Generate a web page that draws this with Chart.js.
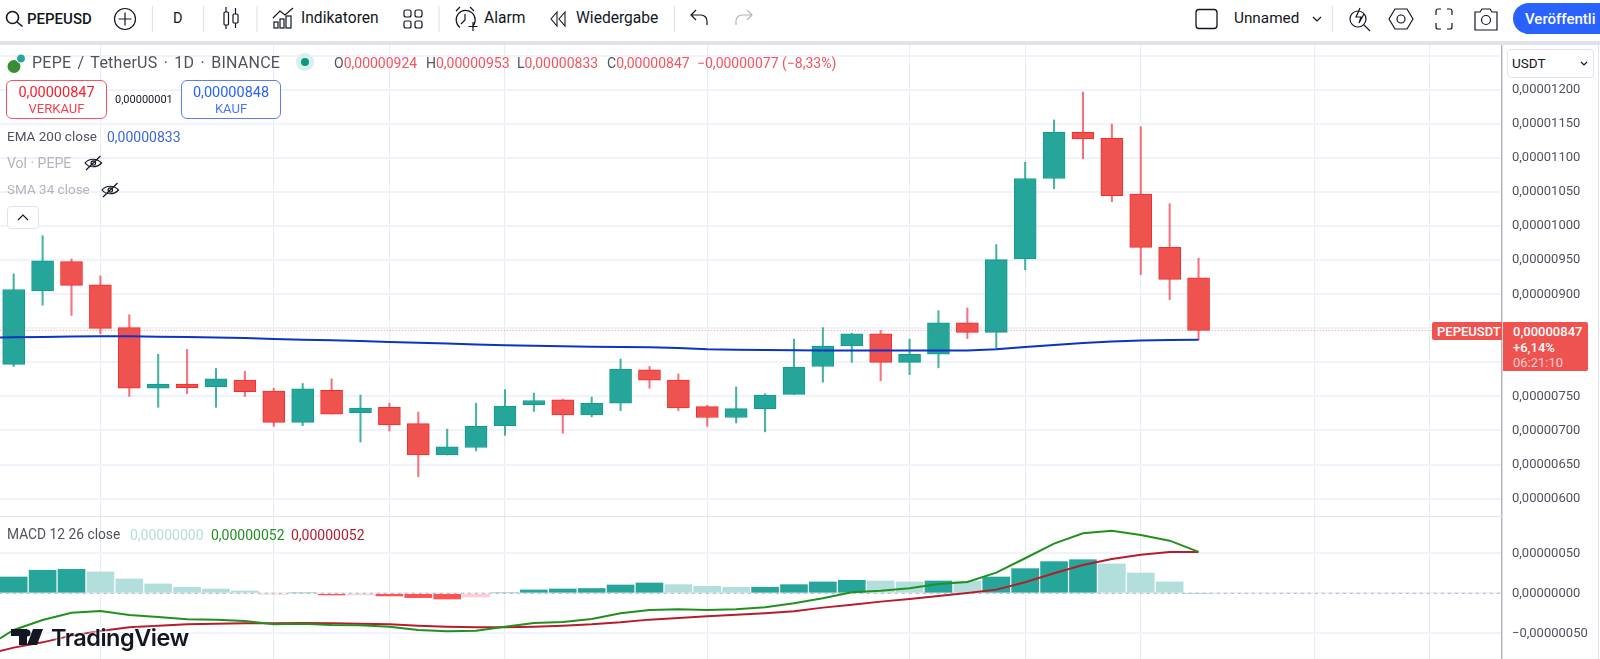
<!DOCTYPE html>
<html lang="de">
<head>
<meta charset="utf-8">
<title>PEPE / TetherUS</title>
<script src="https://cdn.jsdelivr.net/npm/chart.js@4"></script>
<style>
html, body { margin: 0; padding: 0; background: #fff; }
body { position: relative; width: 1600px; height: 659px; overflow: hidden; font-family: Roboto, sans-serif; color: #131722; }
canvas { position: absolute; left: 0; }
#price-chart { top: 45px; }
#macd-chart { top: 516px; }
.bar-line { position: absolute; background: #e0e3eb; }
.t { position: absolute; white-space: nowrap; transform: translateY(-50%); line-height: 1; }
.box { position: absolute; box-sizing: border-box; background: #fff; }
.c { text-align: center; }
.red { color: #f7525f; }
.gray { color: #50535e; }
#icons { position: absolute; left: 0; top: 0; }
#icons * { fill: none; stroke: #131722; stroke-width: 1.2; }
</style>
</head>
<body>
<canvas id="price-chart" width="1600" height="471" style="width:1600px;height:471px"></canvas>
<canvas id="macd-chart" width="1600" height="143" style="width:1600px;height:143px"></canvas>

<div class="bar-line" style="left:0;top:41px;width:1600px;height:4px"></div>
<div class="bar-line" style="left:0;top:516px;width:1502px;height:1px"></div>
<div class="bar-line" style="left:1598px;top:45px;width:1px;height:614px"></div>

<!-- Werkzeugleiste -->
<div class="t" style="left:27px;top:19px;font-size:15px;font-weight:500">PEPEUSD</div>
<div class="t" style="left:173px;top:19px;font-size:14.5px">D</div>
<div class="t" style="left:301px;top:19px;font-size:15.6px">Indikatoren</div>
<div class="t" style="left:484px;top:19px;font-size:15.6px">Alarm</div>
<div class="t" style="left:576px;top:19px;font-size:15.6px">Wiedergabe</div>
<div class="t" style="left:1234px;top:19px;font-size:15.3px">Unnamed</div>
<div class="box" style="left:1513px;top:3px;width:110px;height:31px;background:#2962ff;border-radius:16px"></div>
<div class="t" style="left:1525px;top:19px;font-size:15px;font-weight:500;color:#fff">Veröffentli</div>

<!-- Legende -->
<div class="t gray" style="left:32px;top:63px;font-size:16px;letter-spacing:0.25px;word-spacing:2px">PEPE / TetherUS · 1D · BINANCE</div>
<div class="t gray" style="left:334px;top:63px;font-size:14px">O<span class="red">0,00000924</span></div>
<div class="t gray" style="left:426px;top:63px;font-size:14px">H<span class="red">0,00000953</span></div>
<div class="t gray" style="left:517px;top:63px;font-size:14px">L<span class="red">0,00000833</span></div>
<div class="t gray" style="left:607px;top:63px;font-size:14px">C<span class="red">0,00000847</span></div>
<div class="t red" style="left:697px;top:63px;font-size:14px">−0,00000077 (−8,33%)</div>

<div class="box" style="left:6px;top:80px;width:101px;height:39px;border:1px solid #f7525f;border-radius:6px"></div>
<div class="t c" style="left:6px;width:101px;top:93px;font-size:14.5px;color:#f6202f">0,00000847</div>
<div class="t c" style="left:6px;width:101px;top:108px;font-size:13px;color:#f6404f">VERKAUF</div>
<div class="t" style="left:115px;top:99px;font-size:11px">0,00000001</div>
<div class="box" style="left:181px;top:80px;width:100px;height:39px;border:1px solid #5a80f0;border-radius:6px"></div>
<div class="t c" style="left:181px;width:100px;top:93px;font-size:14.5px;color:#2962ff">0,00000848</div>
<div class="t c" style="left:181px;width:100px;top:108px;font-size:13px;color:#4c75f5">KAUF</div>

<div class="t gray" style="left:7px;top:137px;font-size:13.5px">EMA 200 close</div>
<div class="t" style="left:107px;top:137px;font-size:14px;color:#3f66e0">0,00000833</div>
<div class="t" style="left:7px;top:163px;font-size:14px;color:#b2b5be">Vol · PEPE</div>
<div class="t" style="left:7px;top:190px;font-size:13.5px;color:#b2b5be">SMA 34 close</div>
<div class="box" style="left:7px;top:206px;width:32px;height:23px;border:1px solid #e0e3eb;border-radius:4px"></div>

<!-- rechte Skala -->
<div class="box" style="left:1507px;top:49px;width:87px;height:29px;border:1px solid #e0e3eb;border-radius:4px"></div>
<div class="t" style="left:1512px;top:64px;font-size:13.5px">USDT</div>
<div class="box" style="left:1432px;top:322px;width:70px;height:18px;background:#ef5350;border-radius:2px 0 0 2px"></div>
<div class="t" style="left:1437px;top:331px;font-size:13px;font-weight:500;color:#fff">PEPEUSDT</div>
<div class="box" style="left:1503px;top:322px;width:85px;height:49px;background:#ef5350;border-radius:0 2px 2px 0"></div>
<div class="t" style="left:1513px;top:331px;font-size:13px;font-weight:500;color:#fff">0,00000847</div>
<div class="t" style="left:1513px;top:347px;font-size:13px;font-weight:500;color:#fff">+6,14%</div>
<div class="t" style="left:1513px;top:362px;font-size:13px;color:#fbd0d2">06:21:10</div>

<!-- MACD-Legende -->
<div class="t gray" style="left:7px;top:535px;font-size:13.8px">MACD 12 26 close</div>
<div class="t" style="left:130px;top:535px;font-size:14px;color:#b2dfdb">0,00000000</div>
<div class="t" style="left:211px;top:535px;font-size:14px;color:#22901f">0,00000052</div>
<div class="t" style="left:291px;top:535px;font-size:14px;color:#b71c2c">0,00000052</div>

<!-- Logo -->
<div class="t" style="left:51px;top:638px;font-family:Inter,Roboto,sans-serif;font-size:23.5px;font-weight:600;letter-spacing:-0.5px;color:#131722;text-shadow:0 0 3px #fff,0 0 3px #fff">TradingView</div>

<svg id="icons" width="1600" height="659" viewBox="0 0 1600 659">
  <path style="stroke:#e0e3eb" d="M152.5 6V32M203.5 6V32M257 6V32M439 6V32M674.5 6V32M1332.5 6V32"/>
  <circle cx="12.5" cy="17.5" r="6" style="stroke-width:1.6"/><path d="M17 22L22.5 26.5" style="stroke-width:1.6"/>
  <circle cx="125" cy="19" r="10.5"/><path d="M125 12.5V25.5M118.5 19H131.5"/>
  <path d="M226 7V29M235.5 8V28"/><rect x="224" y="12" width="4.5" height="13" rx="1" style="fill:#fff"/><rect x="233" y="14" width="5" height="9" rx="1" style="fill:#fff"/>
  <path d="M273 18L280 11L285 15L293 8"/><rect x="274" y="22" width="4" height="6"/><rect x="280" y="19" width="4" height="9"/><rect x="286" y="16" width="5" height="12"/>
  <rect x="404" y="10" width="7" height="7" rx="2"/><rect x="415" y="10" width="7" height="7" rx="2"/><rect x="404" y="21" width="7" height="7" rx="2"/><rect x="415" y="21" width="7" height="7" rx="2"/>
  <path d="M472 27A9.5 9.5 0 1 0 460 27.5M465 14V20L461 24M456 11L460 7M474 11L470 7M473 22V31M468.5 26.5H477.5"/>
  <path d="M557 12L551 19L557 26ZM565 12L559 19L565 26Z" style="stroke-width:1.1"/>
  <path d="M692 15H701A6 6 0 0 1 707 21V25M696 10L691 15L696 20"/>
  <path d="M751 15H742A6 6 0 0 0 736 21V25M747 10L752 15L747 20" style="stroke:#b2b5be"/>
  <rect x="1196" y="9.5" width="21" height="19" rx="3" style="stroke-width:1.3"/>
  <path d="M1313 17L1317 21L1321 17"/>
  <circle cx="1358" cy="19" r="8"/><path d="M1364 25L1370 31M1360 8L1356 17H1361L1359 23L1364 14"/>
  <path d="M1395 9H1407L1413 19L1407 29H1395L1389 19Z"/><circle cx="1401" cy="19" r="4"/>
  <path d="M1436 15V11A2 2 0 0 1 1438 9H1441M1447 9H1450A2 2 0 0 1 1452 11V15M1452 23V27A2 2 0 0 1 1450 29H1447M1441 29H1438A2 2 0 0 1 1436 27V23"/>
  <path d="M1475 12H1480L1482 9H1490L1492 12H1497V30H1475Z"/><circle cx="1486" cy="20" r="4.5"/>
  <circle cx="14" cy="66.5" r="6.5" style="fill:#3d8b37;stroke:none"/><circle cx="21" cy="58.5" r="4.5" style="fill:#26a69a;stroke:#fff"/>
  <circle cx="305" cy="62" r="9" style="fill:#d9efec;stroke:none"/><circle cx="305" cy="62" r="4" style="fill:#089981;stroke:none"/>
  <path d="M85 163C89 158 97 158 101.500 163C97 168 89 168 85 163ZM86 170L100.500 156"/><circle cx="93.300" cy="163" r="2.2"/>
  <path d="M102 190C106 185 114 185 118.500 190C114 195 106 195 102 190ZM103 197L117.500 183"/><circle cx="110.300" cy="190" r="2.2"/>
  <path d="M18 220L23 215L28 220"/>
  <path d="M1581 62L1584 65L1587 62"/>
  <path style="fill:#131722;stroke:none" d="M11 629H27V645H19V636H11ZM33 629H43L37 645H27Z"/>
  <circle cx="27" cy="633" r="3.5" style="fill:#131722;stroke:none"/>
</svg>

<script>
// werte in 1e-8 USDT
const opens = [797,905,948,914,851,762,768,764,774,758,712,759,726,734,710,664,675,707,738,745,723,740,789,774,735,719,732,753,794,824,842,800,812,858,844,952,1070,1138,1129,1047,969,924];
const highs = [930,986,952,927,870,812,819,791,787,762,769,776,752,740,727,702,740,760,755,746,749,805,794,783,737,764,754,834,851,843,847,834,876,880,973,1094,1156,1197,1150,1146,1033,953];
const lows = [794,884,869,842,750,734,754,734,750,706,707,724,683,699,632,664,670,693,728,696,720,729,762,729,706,711,698,753,771,800,773,782,792,835,821,936,1055,1099,1036,929,892,833];
const closes = [907,949,913,850,762,768,763,776,757,712,761,724,733,708,664,676,706,736,744,723,740,790,774,733,719,732,752,793,824,842,800,812,858,844,951,1070,1138,1128,1045,969,922,847];

// erster wert liegt einen tag links vom bild
const emaValues = [836.5,836.9,837.3,838,838.3,838.3,837.7,837.3,836.6,835.8,834.4,833.3,832.5,831.4,830,828.9,827.8,826.3,825.3,824.5,823.8,823,822.6,822.2,821.1,819.2,818.7,818.2,817.8,817.6,817.5,817.3,817.3,817.3,817.6,819.2,822.6,825.6,828.5,830.7,832.2,832.9,833.3];
const macdValues = [-67.9,-45.8,-33.3,-24.2,-22.1,-27.1,-29.6,-32.5,-32.9,-34.6,-38.8,-37.9,-39.6,-40,-41.7,-45.8,-47.5,-46.7,-41.7,-37.1,-35.8,-32.1,-25,-20.8,-20,-20.8,-20,-17.5,-12.5,-6.3,1.3,3.3,6.3,11.7,14.2,25.8,43.8,62.1,75,78.3,72.9,65.8,51.7];
const signalValues = [-77,-67.9,-61.3,-52.9,-47.1,-42.5,-40.4,-38.8,-37.9,-37.5,-37.5,-37.1,-37.5,-37.9,-38.8,-40.4,-41.7,-42.5,-42.5,-41.7,-40.4,-38.8,-36.3,-32.9,-30.8,-28.8,-26.7,-25,-22.5,-17.9,-14.2,-10.4,-7.1,-3.3,0.4,4.6,13.8,25,35.4,42.9,48.3,51.7,51.7];
const histValues = [20.4,28.8,30,26.7,17.9,11.7,7.5,5.4,2.9,-1.2,0.6,-2.1,-2,-3.3,-5.4,-7.1,-4.6,0.8,4.2,5.4,6,10.4,12.9,10.8,8.75,7.5,7.6,10.8,14.2,16.25,15.4,14.2,15.4,15.3,20.4,30.8,39.6,42,36.7,25.4,14.2,0];

const lastPrice = 847;
const priceTicks = [1250,1200,1150,1100,1050,1000,950,900,850,800,750,700,650,600];
const priceTickLabels = [1200,1150,1100,1050,1000,950,900,750,700,650,600];
const macdTicks = [50,0,-50];
const gridDays = [3,9,13,17,24,31,35,39,45,49];

const GREEN = '#26a69a';
const RED = '#ef5350';
const GRID_H = '#f0f3fa';
const GRID_V = '#e6eef4';
const TICK_FONT = {family: 'Roboto', size: 13};

Chart.defaults.animation = false;
Chart.defaults.font.family = 'Roboto';

function priceLabel(v){
	const text = (Math.abs(v) / 1e8).toFixed(8).replace('.', ',');
	return v < 0 ? '−' + text : text;
}

function xAxis(){
	return {
		type: 'linear',
		offset: false,
		min: -0.474,
		max: 51.5,
		border: {display: false},
		grid: {color: GRID_V, lineWidth: 1.2, drawTicks: false, offset: false},
		ticks: {display: false},
		afterBuildTicks(scale){ scale.ticks = gridDays.map(d => ({value: d})); },
		afterFit(scale){ scale.height = 0; scale.paddingLeft = 0; scale.paddingRight = 0; }
	};
}

function yAxis(min, max, ticks, labels){
	return {
		position: 'right',
		min: min,
		max: max,
		border: {display: true, color: '#b2b5be', width: 1.5},
		grid: {color: GRID_H, lineWidth: 2, drawTicks: false},
		ticks: {
			color: '#50535e',
			font: TICK_FONT,
			padding: 10,
			autoSkip: false,
			callback(v){ return labels.includes(v) ? priceLabel(v) : ''; }
		},
		afterBuildTicks(scale){ scale.ticks = ticks.map(v => ({value: v})); },
		afterFit(scale){ scale.width = 98; scale.paddingTop = 0; scale.paddingBottom = 0; }
	};
}

function lineData(values){
	return values.map((v, i) => ({x: i - 1, y: v}));
}

function lineSet(values, color, order){
	return {type: 'line', data: lineData(values), borderColor: color, borderWidth: 2, pointRadius: 0, tension: 0, order: order};
}

const baseOptions = {
	responsive: false,
	devicePixelRatio: 1,
	layout: {padding: 0},
	plugins: {legend: {display: false}, tooltip: {enabled: false}}
};

new Chart(document.getElementById('price-chart'), {
	type: 'bar',
	data: {
		datasets: [
			{
				data: opens.map((o, i) => ({x: i, y: [lows[i], highs[i]]})),
				backgroundColor: opens.map((o, i) => closes[i] >= o ? 'rgba(8,153,129,0.75)' : 'rgba(242,54,69,0.7)'),
				barThickness: 1.4,
				grouped: false,
				order: 4
			},
			{
				data: opens.map((o, i) => ({x: i, y: [o, closes[i]]})),
				backgroundColor: opens.map((o, i) => closes[i] >= o ? GREEN : RED),
				borderColor: opens.map((o, i) => closes[i] >= o ? '#0f9c8e' : '#f22d2d'),
				borderWidth: 1,
				borderSkipped: false,
				barThickness: 22,
				grouped: false,
				order: 3
			},
			lineSet(emaValues, '#0b33c4', 2),
			{
				type: 'line',
				data: [{x: -1, y: lastPrice}, {x: 52, y: lastPrice}],
				borderColor: 'rgba(242,54,69,0.55)',
				borderWidth: 1,
				borderDash: [1, 2],
				pointRadius: 0,
				order: 1
			}
		]
	},
	options: {
		...baseOptions,
		scales: {x: xAxis(), y: yAxis(574.4, 1266.1, priceTicks, priceTickLabels)}
	}
});

new Chart(document.getElementById('macd-chart'), {
	type: 'bar',
	data: {
		datasets: [
			{
				type: 'line',
				data: [{x: -1, y: 0}, {x: 52, y: 0}],
				borderColor: '#b2b5be',
				borderWidth: 1,
				borderDash: [3, 4],
				pointRadius: 0,
				order: 2
			},
			{
				data: histValues.map((v, i) => ({x: i, y: v})),
				backgroundColor: histValues.map((v, i) => {
					const rising = i == 0 || Math.abs(v) >= Math.abs(histValues[i - 1]);
					if ( v >= 0 ) return rising ? GREEN : '#b2dfdb';
					return rising ? '#ff5252' : '#ffcdd2';
				}),
				barThickness: 27,
				grouped: false,
				order: 3
			},
			lineSet(signalValues, '#b71c2c', 1),
			lineSet(macdValues, '#22901f', 0)
		]
	},
	options: {
		...baseOptions,
		scales: {x: xAxis(), y: yAxis(-82.1, 96.6, macdTicks, macdTicks)}
	}
});
</script>
</body>
</html>
